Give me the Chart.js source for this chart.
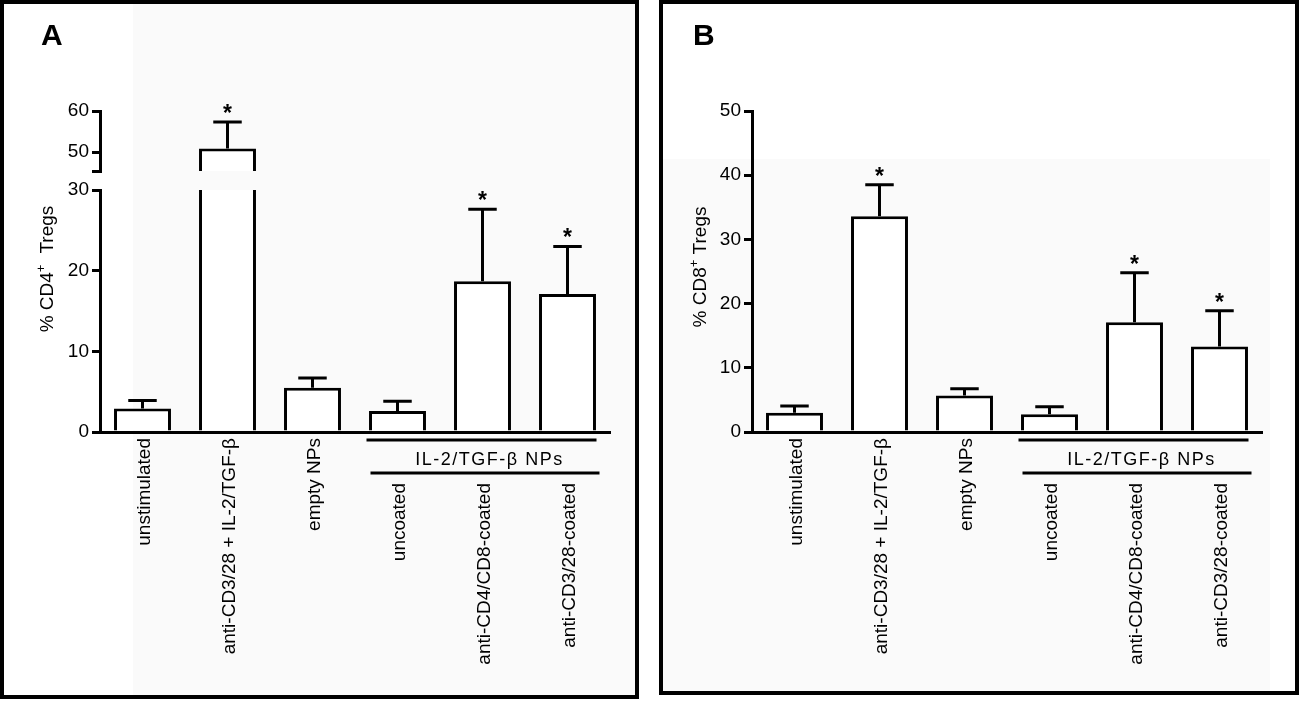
<!DOCTYPE html>
<html>
<head>
<meta charset="utf-8">
<script src="https://cdn.jsdelivr.net/npm/chart.js@4.4.1/dist/chart.umd.min.js"></script>
<style>
  html, body { margin: 0; padding: 0; background: #fff; }
  #page { position: relative; width: 1300px; height: 701px; overflow: hidden; background: #fff; }
  .shade { position: absolute; background: #fafafa; }
  .panel { position: absolute; box-sizing: border-box; border: 4px solid #000; background: transparent; z-index: 5; }
  canvas { position: absolute; top: 0; }
</style>
</head>
<body>
<div id="page">
  <div class="shade" style="left:133px;top:4px;width:502px;height:691px;"></div>
  <div class="shade" style="left:663px;top:159px;width:607px;height:532px;"></div>
  <canvas id="cA1" width="640" height="701" style="left:0;width:640px;height:701px;"></canvas>
  <canvas id="cA2" width="640" height="701" style="left:0;width:640px;height:701px;"></canvas>
  <canvas id="cB" width="640" height="701" style="left:652px;width:640px;height:701px;"></canvas>
  <div class="panel" style="left:0;top:0;width:639px;height:699px;"></div>
  <div class="panel" style="left:659px;top:0;width:640px;height:695px;"></div>
</div>
<script>
// ---------------- data ----------------
const categories = ['unstimulated', 'anti-CD3/28 + IL-2/TGF-β', 'empty NPs', 'uncoated', 'anti-CD4/CD8-coated', 'anti-CD3/28-coated'];
const groupLabel = 'IL-2/TGF-β NPs';
const groupFirst = 3;
const groupLast = 5;

const cd4Mean = [2.9, 50.9, 5.5, 2.6, 18.7, 17.1];
const cd4Err  = [1.0, 6.4, 1.2, 1.2, 8.9, 5.9];
const cd4Sig  = [false, true, false, false, true, true];

const cd8Mean = [3.0, 33.6, 5.7, 2.75, 17.1, 13.3];
const cd8Err  = [1.05, 4.9, 1.05, 1.2, 7.7, 5.6];
const cd8Sig  = [false, true, false, false, true, true];

const cd4LowerTicks = [0, 10, 20, 30];
const cd4UpperTicks = [50, 60];
const cd4BreakLow = 30;
const cd4BreakHigh = 45.4;
const cd4Max = 60;
const cd8Ticks = [0, 10, 20, 30, 40, 50];

// ---------------- helpers ----------------
const FAMILY = "'Liberation Sans', Arial, Helvetica, sans-serif";
Chart.defaults.font.family = FAMILY;
Chart.defaults.color = '#000';

const decor = {
  id: 'decor',
  afterDatasetsDraw(chart, args, opts) {
    const ctx = chart.ctx;
    const ca = chart.chartArea;
    const ys = chart.scales.y;
    const meta = chart.getDatasetMeta(0);
    // error bars (clipped to this chart's plotting region)
    ctx.save();
    ctx.beginPath();
    ctx.rect(ca.left - 20, ca.top - 2, ca.right - ca.left + 40, ca.bottom - ca.top + 2);
    ctx.clip();
    ctx.strokeStyle = '#000';
    ctx.lineWidth = 3;
    ctx.lineCap = 'butt';
    opts.mean.forEach((m, i) => {
      const bar = meta.data[i];
      const cx = bar.x;
      const half = bar.width / 4;
      const y0 = ys.getPixelForValue(m);
      const y1 = ys.getPixelForValue(m + opts.err[i]);
      ctx.beginPath();
      ctx.moveTo(cx, y0);
      ctx.lineTo(cx, y1);
      ctx.moveTo(cx - half, y1);
      ctx.lineTo(cx + half, y1);
      ctx.stroke();
    });
    ctx.restore();
    // significance stars
    ctx.save();
    ctx.fillStyle = '#000';
    ctx.font = 'bold 23px ' + FAMILY;
    ctx.textAlign = 'center';
    ctx.textBaseline = 'alphabetic';
    opts.mean.forEach((m, i) => {
      const top = m + opts.err[i];
      if (!opts.sig[i] || top < ys.min || top > ys.max) return;
      const cx = meta.data[i].x;
      ctx.fillText('*', cx, ys.getPixelForValue(top) - 1);
    });
    ctx.restore();
  },
  afterDraw(chart, args, opts) {
    const ctx = chart.ctx;
    const ca = chart.chartArea;
    const xs = chart.scales.x;
    ctx.save();
    ctx.fillStyle = '#000';
    ctx.strokeStyle = '#000';
    if (opts.letter) {
      ctx.font = 'bold 30px ' + FAMILY;
      ctx.textAlign = 'left';
      ctx.textBaseline = 'alphabetic';
      ctx.fillText(opts.letter.text, opts.letter.x, opts.letter.y);
    }
    if (opts.title) {
      const t = opts.title;
      ctx.save();
      ctx.translate(t.x, t.y);
      ctx.rotate(-Math.PI / 2);
      ctx.textBaseline = 'middle';
      ctx.textAlign = 'left';
      const mainFont = '19px ' + FAMILY, supFont = '13px ' + FAMILY;
      ctx.font = mainFont; const w1 = ctx.measureText(t.a).width;
      ctx.font = supFont; const w2 = ctx.measureText('+').width;
      ctx.font = mainFont; const w3 = ctx.measureText(t.b).width;
      const total = w1 + w2 + t.gap + w3;
      let px = -total / 2;
      ctx.font = mainFont; ctx.fillText(t.a, px, 0); px += w1;
      ctx.font = supFont; ctx.fillText('+', px, -7); px += w2 + t.gap;
      ctx.font = mainFont; ctx.fillText(t.b, px, 0);
      ctx.restore();
    }
    if (opts.xLabels) {
      ctx.font = '19px ' + FAMILY;
      categories.forEach((lab, i) => {
        const cx = xs.getPixelForValue(i);
        const top = i >= groupFirst ? ca.bottom + 51 : ca.bottom + 6;
        ctx.save();
        ctx.translate(cx + 2, top);
        ctx.rotate(-Math.PI / 2);
        ctx.textAlign = 'right';
        ctx.textBaseline = 'middle';
        ctx.fillText(lab, 0, 0);
        ctx.restore();
      });
      // group bracket
      const gx0 = xs.getPixelForValue(groupFirst);
      const gx1 = xs.getPixelForValue(groupLast);
      ctx.lineWidth = 3;
      ctx.beginPath();
      ctx.moveTo(gx0 - 31, ca.bottom + 8);
      ctx.lineTo(gx1 + 29, ca.bottom + 8);
      ctx.moveTo(gx0 - 27, ca.bottom + 41);
      ctx.lineTo(gx1 + 32, ca.bottom + 41);
      ctx.stroke();
      ctx.font = '18px ' + FAMILY;
      ctx.letterSpacing = '1.5px';
      ctx.textAlign = 'center';
      ctx.textBaseline = 'alphabetic';
      ctx.fillText(groupLabel, (gx0 + gx1) / 2 + 7, ca.bottom + 33);
      ctx.letterSpacing = '0px';
    }
    ctx.restore();
  }
};
Chart.register(decor);

function barDataset(values) {
  return {
    data: values,
    backgroundColor: '#fff',
    borderColor: '#000',
    borderWidth: 3,
    barPercentage: 0.67,
    categoryPercentage: 1,
    clip: 0
  };
}

function yScale(min, max, tickValues, blankValue) {
  return {
    min: min,
    max: max,
    afterBuildTicks: s => { s.ticks = tickValues.map(v => ({ value: v })); },
    afterFit: s => { s.width = 100; },
    grid: { display: true, drawOnChartArea: false, drawTicks: true, tickLength: 8, lineWidth: 3, color: '#000' },
    border: { display: true, color: '#000', width: 3 },
    ticks: {
      color: '#000',
      font: { family: FAMILY, size: 19 },
      padding: 3,
      callback: v => (v === blankValue ? '' : String(v))
    }
  };
}

function xScale(show) {
  if (!show) return { display: false };
  return {
    grid: { display: false, drawTicks: false },
    ticks: { display: false },
    border: { display: true, color: '#000', width: 3 },
    afterFit: s => { s.height = 0; }
  };
}

function baseOptions(top, bottom, scales, decorOpts) {
  return {
    responsive: false,
    animation: false,
    devicePixelRatio: 1,
    layout: { padding: { left: 0, right: 30, top: top, bottom: 701 - bottom } },
    plugins: { legend: { display: false }, tooltip: { enabled: false }, decor: decorOpts },
    scales: scales
  };
}

// Panel A, lower segment (0-30)
new Chart(document.getElementById('cA1'), {
  type: 'bar',
  data: { labels: categories, datasets: [barDataset(cd4Mean)] },
  options: baseOptions(190, 432,
    { x: xScale(true), y: yScale(0, cd4BreakLow, cd4LowerTicks, null) },
    { mean: cd4Mean, err: cd4Err, sig: cd4Sig, xLabels: true,
      letter: { text: 'A', x: 41, y: 45 },
      title: { a: '% CD4', b: 'Tregs', gap: 11, x: 48, y: 269 } })
});

// Panel A, upper segment (break - 60)
new Chart(document.getElementById('cA2'), {
  type: 'bar',
  data: { labels: categories, datasets: [barDataset(cd4Mean)] },
  options: baseOptions(111, 171,
    { x: xScale(false), y: yScale(cd4BreakHigh, cd4Max, [cd4BreakHigh].concat(cd4UpperTicks), cd4BreakHigh) },
    { mean: cd4Mean, err: cd4Err, sig: cd4Sig, xLabels: false })
});

// Panel B (0-50)
new Chart(document.getElementById('cB'), {
  type: 'bar',
  data: { labels: categories, datasets: [barDataset(cd8Mean)] },
  options: baseOptions(111, 432,
    { x: xScale(true), y: yScale(0, cd8Ticks[cd8Ticks.length - 1], cd8Ticks, null) },
    { mean: cd8Mean, err: cd8Err, sig: cd8Sig, xLabels: true,
      letter: { text: 'B', x: 41, y: 45 },
      title: { a: '% CD8', b: ' Tregs', gap: 0, x: 49, y: 267 } })
});
</script>
</body>
</html>
